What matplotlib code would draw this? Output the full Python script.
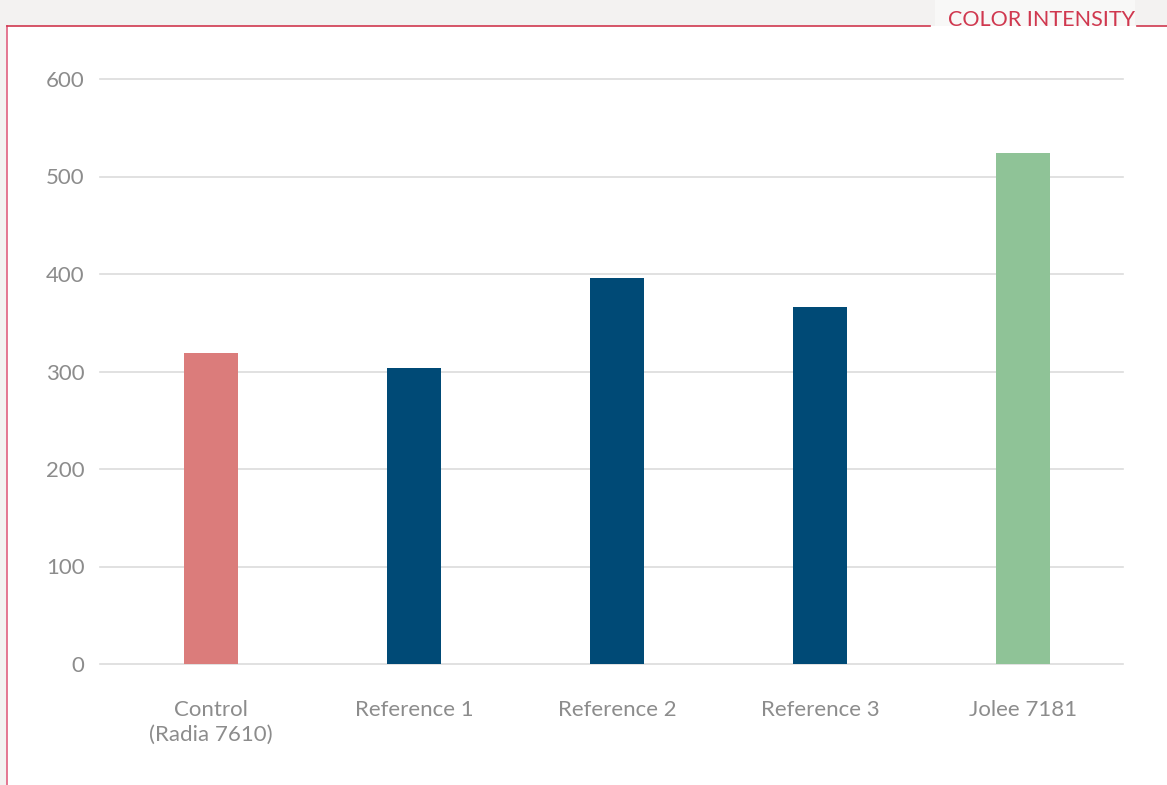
import matplotlib
matplotlib.use("Agg")
import matplotlib.pyplot as plt
from matplotlib.patches import Rectangle
from matplotlib.lines import Line2D

categories = ["Control\n(Radia 7610)", "Reference 1", "Reference 2", "Reference 3", "Jolee 7181"]
values = [319, 304, 396, 366, 524]
colors = ["#DB7C7B", "#004A76", "#004A76", "#004A76", "#8FC397"]
yticks = [0, 100, 200, 300, 400, 500, 600]
title = "COLOR INTENSITY"

plt.rcParams['font.family'] = ['Lato', 'DejaVu Sans']

W, H = 1167, 785
fig = plt.figure(figsize=(W / 100, H / 100), dpi=100)
fig.patch.set_facecolor("#f3f2f1")

# white panel
fig.add_artist(Rectangle((7 / W, 0), 1 - 7 / W, (H - 26) / H, transform=fig.transFigure,
                         facecolor="white", edgecolor="none", zorder=-10))
fig.add_artist(Rectangle((935 / W, (H - 26) / H), 200 / W, 26 / H, transform=fig.transFigure,
                         facecolor="#f8f8f7", edgecolor="none", zorder=-10))
red = "#D0384F"
fig.add_artist(Line2D([7 / W, 7 / W], [0, (H - 26) / H], color="#E06080", lw=1.2, transform=fig.transFigure))
fig.add_artist(Line2D([7 / W, 930 / W], [(H - 26) / H] * 2, color=red, lw=1.2, transform=fig.transFigure))
fig.add_artist(Line2D([1137 / W, 1.0], [(H - 26) / H] * 2, color=red, lw=1.2, transform=fig.transFigure))
fig.text(1041 / W, (H - 20) / H, title, color=red, fontsize=15.5, ha="center", va="center")

ax = fig.add_axes([100 / W, 121 / H, 1023 / W, 585 / H])
ax.set_facecolor("none")
x = list(range(len(categories)))
ax.bar(x, values, width=0.266, color=colors, zorder=3)
ax.set_xlim(-0.547, 4.493)
ax.set_ylim(0, 600)
ax.set_yticks(yticks)
ax.set_xticks(x)
ax.set_xticklabels(categories, fontsize=16, color="#8c8c8c", linespacing=1.3)
ax.set_yticklabels([str(v) for v in yticks], fontsize=16, color="#8c8c8c")
ax.tick_params(axis="x", length=0, pad=26)
ax.tick_params(axis="y", length=0, pad=11)
ax.grid(axis="y", color="#dcdcdc", lw=1.2, zorder=0)
ax.set_axisbelow(True)
for s in ax.spines.values():
    s.set_visible(False)
for gl in ax.get_ygridlines():
    gl.set_clip_on(False)

fig.savefig("out.png", dpi=100, facecolor=fig.get_facecolor())
